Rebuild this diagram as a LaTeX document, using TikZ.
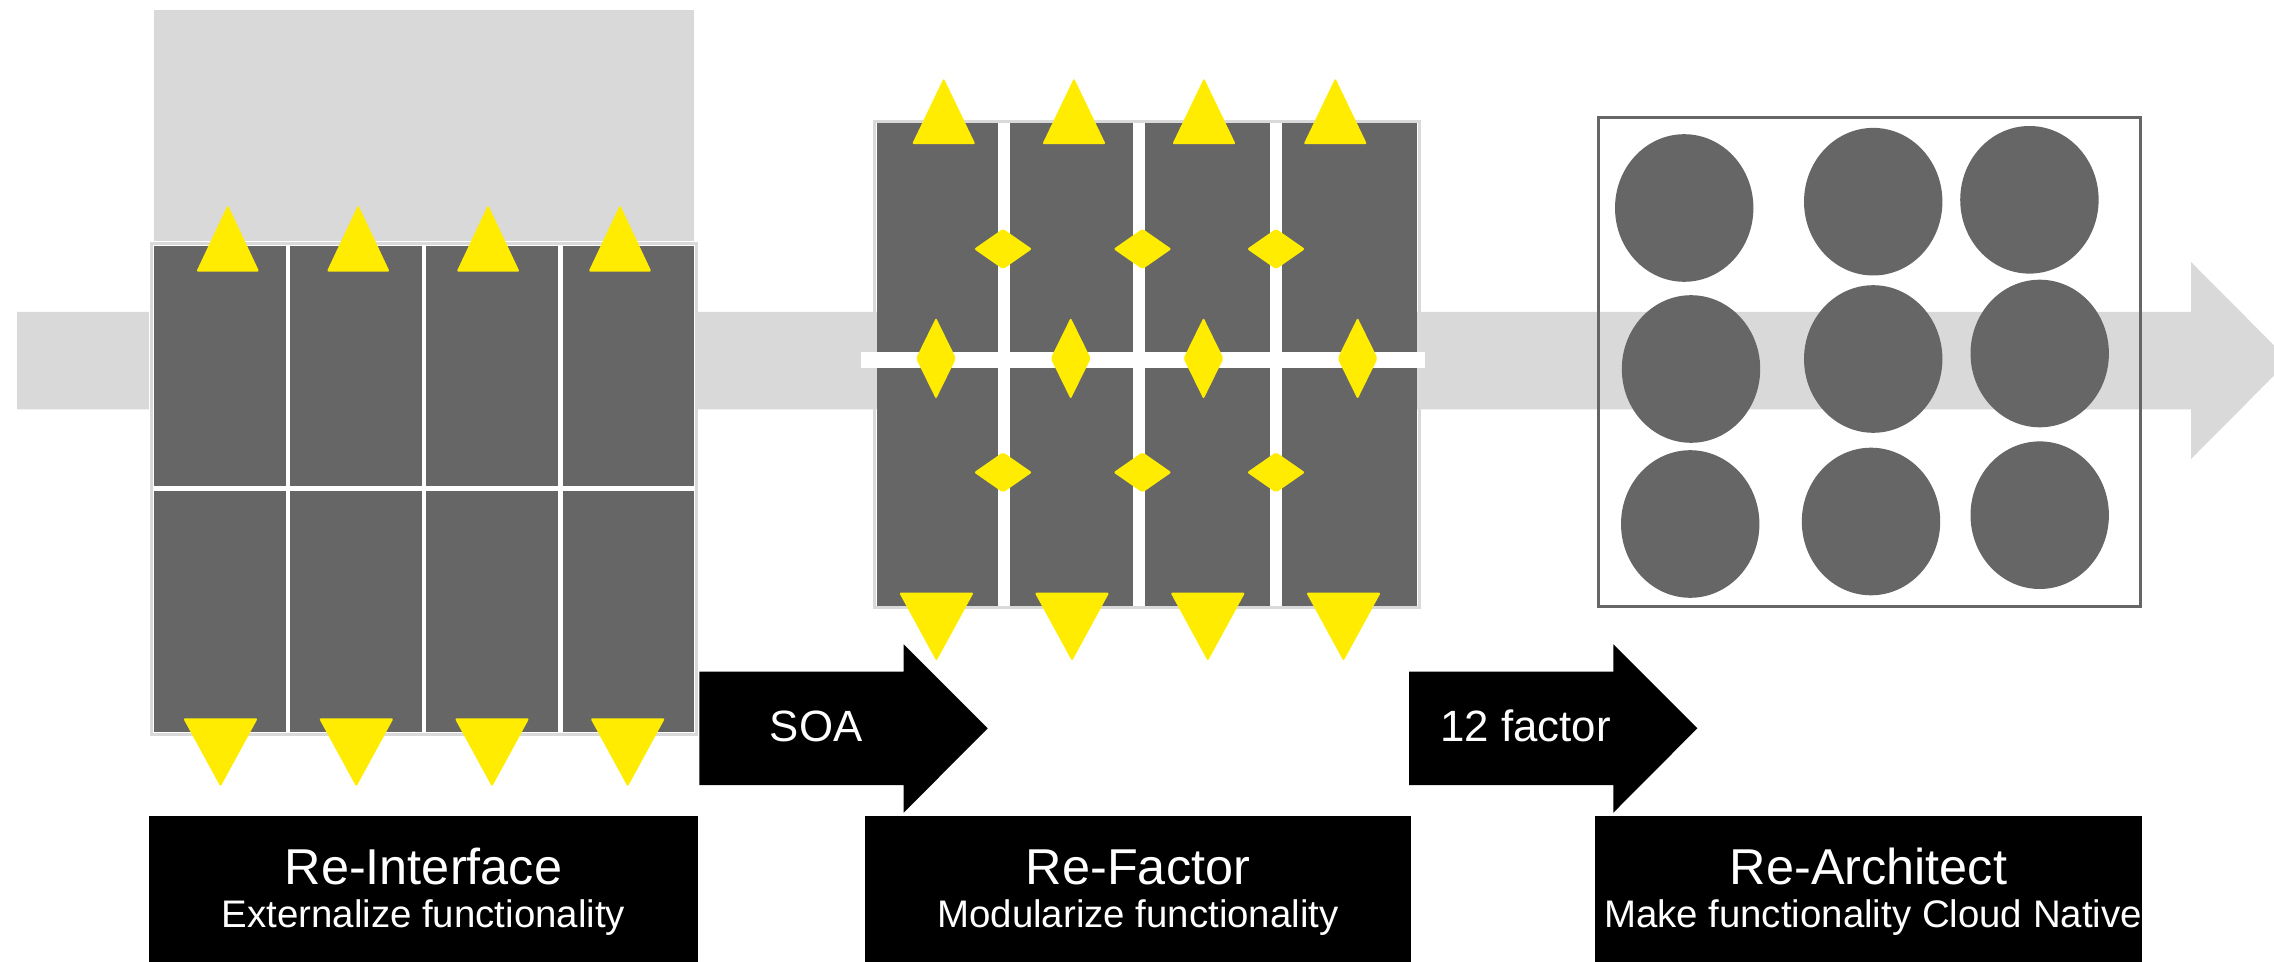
\documentclass[tikz,border=0pt]{standalone}
\usepackage{fontspec}
\setmainfont{Liberation Sans}
\definecolor{dk}{HTML}{666666}
\definecolor{lt}{HTML}{D9D9D9}
\definecolor{yl}{HTML}{FFEC00}
\tikzset{
  cellbox/.style={fill=dk},
  yltri/.style={fill=yl, rounded corners=1pt},
  blob/.style={fill=dk},
  frameline/.style={draw=lt, line width=1.5pt},
  titletext/.style={text=white, inner sep=0pt, anchor=base, font=\fontsize{25.2}{28}\selectfont},
  subtext/.style={text=white, inner sep=0pt, anchor=base, font=\fontsize{19.2}{22}\selectfont},
  arrowtext/.style={text=white, inner sep=0pt, anchor=base west, font=\fontsize{21.9}{25}\selectfont},
}
\begin{document}
\begin{tikzpicture}[x=0.5pt,y=-0.5pt]
\useasboundingbox (0,0) rectangle (2274,962);
\fill[white] (0,0) rectangle (2274,962);

% main grey arrow
\fill[lt] (17,312) -- (2191,312) -- (2191,262) -- (2289,360.5) -- (2191,459) -- (2191,409.3) -- (17,409.3) -- cycle;

% ---------- Panel 1 ----------
\fill[white] (149.3,5.6) rectangle (697.5,736);
\fill[lt] (153.6,10) rectangle (694.1,241.3);
\draw[frameline] (151.5,244) rectangle (696,734);
\fill[white] (153.6,246) rectangle (694.1,731.7);
\foreach \a/\b in {153.6/286, 290.3/421.7, 426/557.9, 562.7/694.1}{
  \fill[cellbox] (\a,246) rectangle (\b,486);
  \fill[cellbox] (\a,490.7) rectangle (\b,731.7);
}
\foreach \c in {227.8,358.2,488.1,620}
  \fill[yltri] ({\c-31.5},271.7) -- (\c,205) -- ({\c+31.5},271.7) -- cycle;
\foreach \c in {220.5,356.3,492,627.7}
  \fill[yltri] ({\c-37.3},718.3) -- ({\c+37.3},718.3) -- (\c,786.7) -- cycle;

% ---------- Panel 2 ----------
\draw[frameline] (874.5,121.5) rectangle (1419,607.5);
\fill[white] (876.5,123.3) rectangle (1416.7,605.7);
\foreach \a/\b in {876.5/997.6, 1010/1133.2, 1144.8/1269.9, 1282/1416.7}{
  \fill[cellbox] (\a,123.3) rectangle (\b,351.8);
  \fill[cellbox] (\a,368.4) rectangle (\b,605.7);
}
\fill[white] (860.5,351.8) rectangle (1425,368.4);
\foreach \c in {943.7,1074,1204,1335.3}
  \fill[yltri] ({\c-31.7},144.2) -- (\c,78.2) -- ({\c+31.7},144.2) -- cycle;
\foreach \c in {936.4,1072,1207.8,1343.5}
  \fill[yltri] ({\c-37.3},592.6) -- ({\c+37.3},592.6) -- (\c,661) -- cycle;
\foreach \c in {1003,1142.5,1276}{
  \fill[yltri] ({\c-29},249) -- (\c,228.8) -- ({\c+29},249) -- (\c,269.2) -- cycle;
  \fill[yltri] ({\c-29},472.4) -- (\c,452.2) -- ({\c+29},472.4) -- (\c,492.6) -- cycle;
}
\foreach \c in {936,1070.7,1203.5,1357.6}
  \fill[yltri] ({\c-20},358.4) -- (\c,317.7) -- ({\c+20},358.4) -- (\c,399.1) -- cycle;

% ---------- Panel 3 ----------
\draw[draw=dk, line width=1.5pt] (1598.5,117.2) rectangle (2140.5,606.2);
\foreach \x/\y in {1684.2/208, 1873.2/201.7, 2029.4/199.8,
                   1691/369, 1873.2/359, 2039.7/353.5,
                   1690.2/524, 1871/521.5, 2039.7/515.2}
  \fill[blob] (\x,\y) ellipse [x radius=34.6pt, y radius=36.9pt];

% ---------- black step arrows ----------
\fill[black] (699.3,671.7) -- (903.7,671.7) -- (903.7,644.3) -- (987.7,728.3) -- (903.7,812.7) -- (903.7,785) -- (699.3,785) -- cycle;
\node[arrowtext] (soa) at (769.5,741.7) {SOA};
\fill[black] (1409,671.7) -- (1613.3,671.7) -- (1613.3,644.3) -- (1697.3,728.3) -- (1613.3,812.7) -- (1613.3,785) -- (1409,785) -- cycle;
\node[arrowtext] (twelve) at (1440,741.7) {12 factor};

% ---------- label boxes ----------
\fill[black] (149.3,815.5) rectangle (697.5,962);
\fill[black] (865,815.5) rectangle (1411,962);
\fill[black] (1595,815.5) rectangle (2142,962);
\node[titletext] (t1) at (423.4,884) {Re-Interface};
\node[subtext] (s1) at (423.4,927.5) {Externalize functionality};
\node[titletext] (t2) at (1138,884) {Re-Factor};
\node[subtext] (s2) at (1138,927.5) {Modularize functionality};
\node[titletext] (t3) at (1868.5,884) {Re-Architect};
\node[subtext] (s3) at (1873,927.5) {Make functionality Cloud Native};
\end{tikzpicture}
\end{document}
